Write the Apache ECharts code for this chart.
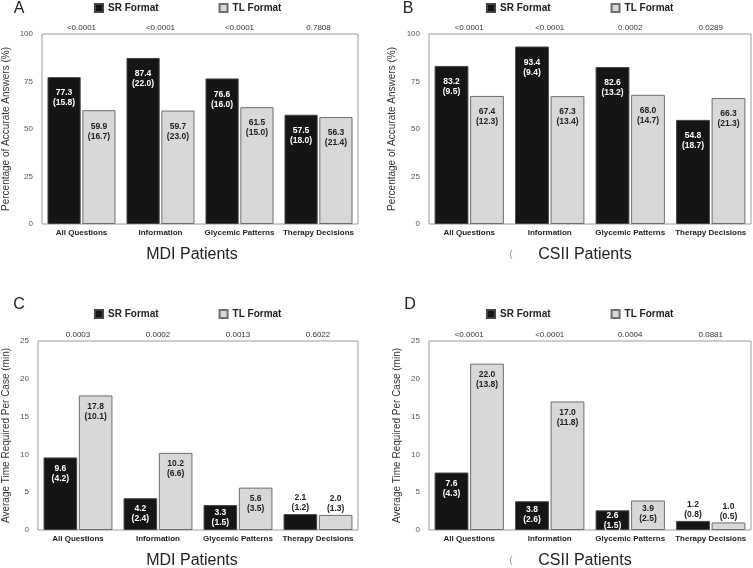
<!DOCTYPE html>
<html>
<head>
<meta charset="utf-8">
<script src="https://cdn.jsdelivr.net/npm/echarts@6/dist/echarts.min.js"></script>
<style>
html,body{margin:0;padding:0;background:#fff;}
#c{width:753px;height:568px;}
</style>
</head>
<body>
<div id="c"></div>
<script>
// ---- data ----
var categories = ['All Questions', 'Information', 'Glycemic Patterns', 'Therapy Decisions'];
var seriesNames = ['SR Format', 'TL Format'];

// Panel A: MDI accuracy (%)
var aSR = [77.3, 87.4, 76.6, 57.5];
var aSRsd = [15.8, 22.0, 16.0, 18.0];
var aTL = [59.9, 59.7, 61.5, 56.3];
var aTLsd = [16.7, 23.0, 15.0, 21.4];
var aP = ['<0.0001', '<0.0001', '<0.0001', '0.7808'];

// Panel B: CSII accuracy (%)
var bSR = [83.2, 93.4, 82.6, 54.8];
var bSRsd = [9.5, 9.4, 13.2, 18.7];
var bTL = [67.4, 67.3, 68.0, 66.3];
var bTLsd = [12.3, 13.4, 14.7, 21.3];
var bP = ['<0.0001', '<0.0001', '0.0002', '0.0289'];

// Panel C: MDI time (min)
var cSR = [9.6, 4.2, 3.3, 2.1];
var cSRsd = [4.2, 2.4, 1.5, 1.2];
var cTL = [17.8, 10.2, 5.6, 2.0];
var cTLsd = [10.1, 6.6, 3.5, 1.3];
var cP = ['0.0003', '0.0002', '0.0013', '0.6022'];

// Panel D: CSII time (min)
var dSR = [7.6, 3.8, 2.6, 1.2];
var dSRsd = [4.3, 2.6, 1.5, 0.8];
var dTL = [22.0, 17.0, 3.9, 1.0];
var dTLsd = [13.8, 11.8, 2.5, 0.5];
var dP = ['<0.0001', '<0.0001', '0.0004', '0.0881'];

var accTicks = {min: 0, max: 100, interval: 25};
var timeTicks = {min: 0, max: 25, interval: 5};
var accName = 'Percentage of Accurate Answers (%)';
var timeName = 'Average Time Required Per Case (min)';

// ---- layout ----
var FONT = '"Liberation Sans", Arial, sans-serif';
var grids = [
  {left: 37, top: 34, width: 321, height: 190},
  {left: 429, top: 34, width: 322, height: 190},
  {left: 37, top: 341, width: 321, height: 189},
  {left: 429, top: 341, width: 322, height: 189}
];
var panels = [
  {sr: aSR, srsd: aSRsd, tl: aTL, tlsd: aTLsd, p: aP, ticks: accTicks, name: accName, gap: 31, dist: 11},
  {sr: bSR, srsd: bSRsd, tl: bTL, tlsd: bTLsd, p: bP, ticks: accTicks, name: accName, gap: 32, dist: 11},
  {sr: cSR, srsd: cSRsd, tl: cTL, tlsd: cTLsd, p: cP, ticks: timeTicks, name: timeName, gap: 27, dist: 6},
  {sr: dSR, srsd: dSRsd, tl: dTL, tlsd: dTLsd, p: dP, ticks: timeTicks, name: timeName, gap: 27, dist: 6}
];

var option = {
  animation: false,
  backgroundColor: '#fff',
  textStyle: {fontFamily: FONT},
  grid: grids.map(function (g) {
    return {left: g.left, top: g.top, width: g.width, height: g.height, show: true,
      borderColor: '#9a9a9a', borderWidth: 1, backgroundColor: '#fff', containLabel: false};
  }),
  legend: [
    {left: 94, top: 3}, {left: 486, top: 3}, {left: 94, top: 309}, {left: 486, top: 309}
  ].map(function (l) {
    return {left: l.left, top: l.top, padding: 0, itemWidth: 8, itemHeight: 8, itemGap: 60,
      icon: 'rect', data: seriesNames,
      textStyle: {fontFamily: FONT, fontSize: 10, fontWeight: 'bold', color: '#222'}};
  }),
  xAxis: [],
  yAxis: [],
  series: [],
  graphic: []
};

panels.forEach(function (p, i) {
  option.xAxis.push({
    type: 'category', gridIndex: i, data: categories, position: 'bottom',
    axisLine: {show: false}, axisTick: {show: false},
    axisLabel: {fontFamily: FONT, fontSize: 8, fontWeight: 'bold', color: '#222', margin: 5, interval: 0}
  });
  option.yAxis.push({
    type: 'value', gridIndex: i, min: p.ticks.min, max: p.ticks.max, interval: p.ticks.interval,
    name: p.name, nameLocation: 'middle', nameGap: p.gap,
    nameTextStyle: {fontFamily: FONT, fontSize: 10, color: '#333'},
    axisLine: {show: false}, axisTick: {show: false}, splitLine: {show: false},
    axisLabel: {fontFamily: FONT, fontSize: 8, color: '#555', margin: 9}
  });
});
panels.forEach(function (p, i) {
  option.xAxis.push({
    type: 'category', gridIndex: i, data: p.p, position: 'top',
    axisLine: {show: false}, axisTick: {show: false},
    axisLabel: {fontFamily: FONT, fontSize: 8, color: '#333', margin: 2, interval: 0}
  });
});

function mkLabel(vals, sds, inColor, dist) {
  return vals.map(function (v, k) {
    var small = v < 2.5;
    var d = dist;
    if (v < 3) { d = 0; } else if (v < 4) { d = 3; } else if (v < 5) { d = 5; }
    return {
      value: v,
      label: {
        show: true,
        position: small ? 'top' : 'insideTop',
        distance: small ? 1 : d,
        color: small ? '#222' : inColor,
        fontFamily: FONT, fontSize: 8.5, fontWeight: 'bold', lineHeight: 10,
        formatter: v.toFixed(1) + '\n(' + sds[k].toFixed(1) + ')'
      }
    };
  });
}

panels.forEach(function (p, i) {
  option.series.push({
    name: seriesNames[0], type: 'bar', xAxisIndex: i, yAxisIndex: i,
    barWidth: '42%', barGap: '5%',
    itemStyle: {color: '#151515', borderColor: '#444', borderWidth: 1},
    data: mkLabel(p.sr, p.srsd, '#fff', p.dist)
  });
  option.series.push({
    name: seriesNames[1], type: 'bar', xAxisIndex: i, yAxisIndex: i,
    barWidth: '42%', barGap: '5%',
    itemStyle: {color: '#d8d8d8', borderColor: '#6e6e6e', borderWidth: 1},
    data: mkLabel(p.tl, p.tlsd, '#222', p.dist)
  });
});

// panel letters & bottom titles
var letters = [['A', 19, 9], ['B', 408, 9], ['C', 19, 305], ['D', 410, 305]];
letters.forEach(function (l) {
  option.graphic.push({type: 'text', x: l[1], y: l[2],
    style: {text: l[0], fontFamily: FONT, fontSize: 16, fill: '#222', align: 'center', verticalAlign: 'middle'}});
});
var titles = [['MDI Patients', 192, 255], ['CSII Patients', 585, 255], ['MDI Patients', 192, 561], ['CSII Patients', 585, 561]];
titles.forEach(function (t) {
  option.graphic.push({type: 'text', x: t[1], y: t[2],
    style: {text: t[0], fontFamily: FONT, fontSize: 16, fill: '#222', align: 'center', verticalAlign: 'middle'}});
});
[[511, 255], [511, 561]].forEach(function (m) {
  option.graphic.push({type: 'text', x: m[0], y: m[1],
    style: {text: '(', fontFamily: FONT, fontSize: 9, fill: '#888', align: 'center', verticalAlign: 'middle'}});
});

var chart = echarts.init(document.getElementById('c'), null, {renderer: 'canvas'});
chart.setOption(option);
</script>
</body>
</html>
